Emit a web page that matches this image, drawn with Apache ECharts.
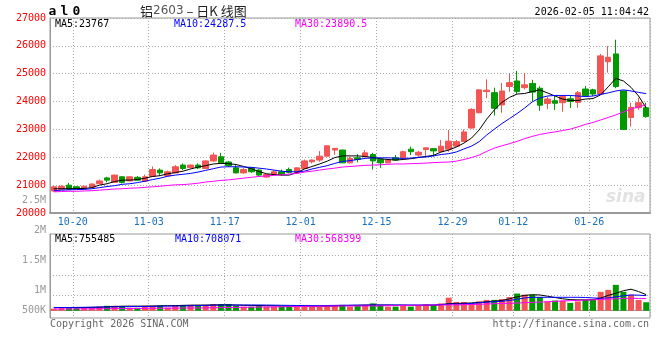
<!DOCTYPE html>
<html><head><meta charset="utf-8">
<script src="https://cdn.jsdelivr.net/npm/echarts@6.0.0/dist/echarts.min.js"></script>
<style>html,body{margin:0;padding:0;background:#fff}#c{width:660px;height:360px}</style>
</head><body><div id="c"></div>
<script>
const dates = ['10-16','10-17','10-20','10-21','10-22','10-23','10-24','10-27','10-28','10-29','10-30','10-31',
'11-03','11-04','11-05','11-06','11-07','11-10','11-11','11-12','11-13','11-14','11-17','11-18','11-19','11-20','11-21',
'11-24','11-25','11-26','11-27','11-28','12-01','12-02','12-03','12-04','12-05','12-08','12-09','12-10','12-11','12-12',
'12-15','12-16','12-17','12-18','12-19','12-22','12-23','12-24','12-25','12-26','12-29','12-30','12-31',
'01-05','01-06','01-07','01-08','01-09','01-12','01-13','01-14','01-15','01-16','01-19','01-20','01-21','01-22','01-23',
'01-26','01-27','01-28','01-29','01-30','02-02','02-03','02-04','02-05'];
const tickLabels = ['10-20','11-03','11-17','12-01','12-15','12-29','01-12','01-26'];
const opens = [20790,20850,21000,20940,20870,20920,21050,21260,21100,21300,21150,21280,21140,21320,21540,21330,21440,21720,21630,21720,
21600,21870,22020,21830,21620,21440,21620,21540,21290,21390,21480,21560,21440,21600,21840,21900,22040,22260,22260,21800,
21980,22020,22100,21920,21800,21980,21980,22290,22080,22280,22310,22200,22290,22400,22570,23050,23600,24360,24320,23880,
24540,24740,24500,24650,24480,23930,24030,23960,24100,23970,24450,24420,24270,25430,25710,24380,23430,23780,23780];
const closes = [20940,20960,20850,20870,20960,21040,21150,21180,21360,21100,21300,21180,21300,21560,21440,21480,21660,21600,21720,21620,
21870,22080,21800,21700,21440,21560,21480,21360,21380,21480,21380,21460,21620,21870,21900,22040,22410,22320,21800,21960,
21920,22160,21870,21800,21900,21900,22200,22200,22180,22340,22230,22400,22580,22560,22910,23720,24420,24410,23760,24380,
24680,24360,24600,24340,23870,24090,23940,24180,24000,24320,24210,24270,25640,25590,24540,23000,23790,23960,23460];
const lows = [20770,20840,20830,20850,20850,20900,21040,21100,21090,21060,21140,21160,21110,21310,21340,21310,21430,21540,21600,21580,
21590,21840,21790,21650,21420,21420,21440,21310,21270,21370,21340,21430,21420,21570,21780,21840,22020,22090,21790,21780,
21820,22000,21560,21620,21780,21870,21970,22080,22020,22020,22020,22190,22200,22380,22560,23030,23580,24120,23500,23600,
24350,24280,24440,24000,23670,23730,23700,23640,23770,23780,24180,24200,24250,25040,24480,22990,23100,23700,23420];
const highs = [20960,20990,21080,20970,20990,21060,21200,21300,21370,21320,21310,21330,21380,21670,21600,21520,21720,21780,21740,21780,
21890,22170,22160,21870,21720,21610,21640,21570,21400,21530,21560,21630,21640,21920,21920,22220,22440,22330,22270,22020,
22110,22260,22160,21960,21930,22080,22240,22380,22230,22340,22310,22620,22980,22620,23000,23760,24440,24800,24500,24670,
25000,25100,25020,24780,24550,24180,24210,24240,24220,24380,24560,24460,25710,26000,26220,24400,23960,24140,23960];
const ma5 = [20870,20870,20870,20880,20880,20910,21000,21050,21130,21180,21180,21200,21250,21310,21340,21410,21450,21500,21580,21650,
21700,21760,21780,21770,21740,21670,21590,21490,21410,21380,21360,21360,21450,21580,21670,21760,21860,21990,22050,22050,
22050,22030,21990,21950,21920,21900,21920,21950,21990,22030,22070,22190,22260,22370,22510,22690,22980,23370,23700,23970,
24150,24270,24290,24360,24420,24310,24200,24090,24040,24040,24090,24110,24240,24530,24830,24740,24510,24200,23767];
const ma10 = [20800,20820,20830,20840,20850,20870,20910,20950,20980,21030,21050,21090,21140,21200,21250,21320,21360,21390,21420,21470,
21530,21590,21650,21660,21660,21650,21640,21610,21580,21540,21500,21480,21480,21500,21580,21640,21700,21780,21850,21880,
21920,21960,21980,21980,21980,21970,21960,21970,22000,22010,22050,22100,22130,22190,22300,22400,22560,22800,23010,23210,
23390,23570,23770,23990,24130,24200,24220,24220,24220,24200,24180,24200,24260,24310,24380,24420,24380,24330,24287.5];
const ma30 = [20760,20770,20780,20780,20790,20800,20820,20840,20860,20870,20890,20900,20920,20940,20960,20990,21010,21020,21040,21070,
21110,21140,21170,21190,21220,21250,21280,21310,21330,21350,21370,21400,21420,21470,21500,21540,21580,21610,21650,21670,
21690,21710,21720,21730,21750,21760,21760,21770,21780,21790,21810,21820,21830,21860,21920,21990,22080,22210,22330,22410,
22490,22570,22670,22750,22820,22870,22910,22960,23010,23090,23180,23250,23340,23430,23520,23630,23730,23810,23890.5];
const volumesK = [96,135,148,148,135,135,191,231,231,218,135,135,231,231,231,148,231,270,270,231,
270,313,313,313,231,191,191,261,191,191,191,191,191,270,191,191,233,233,274,192,
233,274,344,274,192,192,274,192,233,303,274,344,613,409,409,344,438,507,507,548,
642,806,753,753,642,438,479,479,368,438,507,507,887,981,1215,887,753,507,397];
const volMa5K = [150,150,150,150,150,155,165,180,200,210,215,215,215,220,230,235,240,250,260,265,
265,270,270,270,265,255,250,245,235,230,220,210,205,205,205,210,215,225,235,245,
255,260,265,265,265,260,255,250,250,255,260,280,330,345,350,365,390,420,450,480,
560,650,720,750,740,680,620,560,520,510,510,520,590,720,820,940,1010,900,755];
const volMa10K = [150,150,150,155,160,165,170,175,180,185,190,195,200,205,210,215,220,225,230,240,
250,260,265,268,268,268,268,268,265,260,255,250,245,240,240,240,245,250,255,260,
262,265,268,268,268,268,268,268,268,268,270,290,310,315,320,340,370,400,423,440,
480,540,600,630,630,630,630,630,630,630,620,600,583,600,650,700,738,730,708];
const volMa30K = [80,82,84,86,88,90,92,95,98,100,103,106,109,112,115,118,121,124,127,130,
135,140,145,150,155,160,165,170,175,180,185,190,195,200,205,210,215,220,221,221,
221,221,225,230,235,240,245,250,255,260,265,268,270,275,280,290,300,315,330,340,
348,360,375,390,405,420,440,456,470,485,500,515,530,545,560,575,583,575,568];
const priceMaLabels = ['MA5:23767','MA10:24287.5','MA30:23890.5'];
const volMaLabels = ['MA5:755485','MA10:708071','MA30:568399'];
const volAxisLabels = ['2.5M','2M','1.5M','1M','500K'];
const titleCode = ['a','l','0'];
const titleText = '{a|铝}{b|2603}{a| – 日K 线图}';
const timeText = '2026-02-05 11:04:42';

const MONO = 'DejaVu Sans Mono';
const RED = '#f45454', GREEN = '#009a00';
const chart = echarts.init(document.getElementById('c'), null, {renderer: 'canvas'});
const candles = opens.map((o, i) => [o, closes[i], lows[i], highs[i]]);
const volData = volumesK.map((v, i) => ({value: v * 1000, itemStyle: {color: closes[i] >= opens[i] ? RED : GREEN}}));
const dot = {color: '#aaa', type: [1, 2], width: 1};
const splitFn = (i) => i > 0 && tickLabels.indexOf(dates[i - 1]) >= 0;
const maLine = (name, data, color, xi, yi) => ({type: 'line', name, data, xAxisIndex: xi, yAxisIndex: yi, showSymbol: false, symbol: 'none', silent: true, lineStyle: {color, width: 1}, z: 5});
const txt = (text, x, y, fill, align, font) => ({type: 'text', x: 0, y: 0, silent: true, style: {text, x, y, fill, textAlign: align || 'left', textVerticalAlign: 'middle', font: font || ('10px ' + MONO)}});

const option = {
  animation: false,
  backgroundColor: '#fff',
  grid: [
    {left: 50, top: 18, width: 600, height: 195, show: true, borderColor: '#999', borderWidth: 1},
    {left: 50, top: 234, width: 600, height: 84, show: true, borderColor: '#999', borderWidth: 1}
  ],
  xAxis: [
    {type: 'category', gridIndex: 0, data: dates, boundaryGap: true,
     axisLine: {show: true, lineStyle: {color: '#999', width: 2}}, axisTick: {show: false},
     axisLabel: {interval: (i, v) => tickLabels.indexOf(v) >= 0, color: '#1a70c0', fontFamily: MONO, fontSize: 10, margin: 4, padding: [0, 0, 0, 7.6]},
     splitLine: {show: true, interval: splitFn, lineStyle: dot}},
    {type: 'category', gridIndex: 1, data: dates, boundaryGap: true,
     axisLine: {show: true, lineStyle: {color: '#999', width: 1}}, axisTick: {show: false}, axisLabel: {show: false},
     splitLine: {show: true, interval: splitFn, lineStyle: dot}}
  ],
  yAxis: [
    {type: 'value', gridIndex: 0, min: 20000, max: 27000, interval: 1000,
     axisLine: {show: true, lineStyle: {color: '#999', width: 1}}, axisTick: {show: false},
     axisLabel: {color: '#f00', fontFamily: MONO, fontSize: 10, margin: 4, formatter: v => String(v)},
     splitLine: {show: true, lineStyle: dot}},
    {type: 'value', gridIndex: 1, min: -343000, max: 3605000,
     axisLine: {show: true, lineStyle: {color: '#999', width: 1}}, axisTick: {show: false}, axisLabel: {show: false},
     splitLine: {show: false}}
  ],
  series: [
    {type: 'candlestick', xAxisIndex: 0, yAxisIndex: 0, data: candles, barWidth: 6, silent: true,
     itemStyle: {color: RED, color0: GREEN, borderColor: RED, borderColor0: GREEN, borderWidth: 1}},
    maLine('MA5', ma5, '#000', 0, 0),
    maLine('MA10', ma10, '#0000ff', 0, 0),
    maLine('MA30', ma30, '#ff00ff', 0, 0),
    {type: 'bar', xAxisIndex: 1, yAxisIndex: 1, data: volData, barWidth: 6, silent: true},
    maLine('VMA5', volMa5K.map(v => v * 1000), '#000', 1, 1),
    maLine('VMA10', volMa10K.map(v => v * 1000), '#0000ff', 1, 1),
    maLine('VMA30', volMa30K.map(v => v * 1000), '#ff00ff', 1, 1)
  ],
  graphic: [
    txt(titleCode[0], 48.5, 12, '#000', 'left', 'bold 13px ' + MONO),
    txt(titleCode[1], 60.5, 12, '#000', 'left', 'bold 13px ' + MONO),
    txt(titleCode[2], 72.5, 12, '#000', 'left', 'bold 13px ' + MONO),
    {type: 'text', x: 0, y: 0, silent: true, style: {text: titleText, x: 140, y: 11, textAlign: 'left', textVerticalAlign: 'middle',
      rich: {a: {fontSize: 13, fontFamily: 'Noto Sans CJK SC', fill: '#222', color: '#222'}, b: {fontSize: 12, fontFamily: 'DejaVu Sans', fill: '#555', color: '#555'}}}},
    txt(timeText, 649, 12, '#000', 'right'),
    txt(priceMaLabels[0], 55, 24, '#000'),
    txt(priceMaLabels[1], 174, 24, '#0000ff'),
    txt(priceMaLabels[2], 295, 24, '#ff00ff'),
    txt(volMaLabels[0], 55, 239, '#000'),
    txt(volMaLabels[1], 175, 239, '#0000ff'),
    txt(volMaLabels[2], 295, 239, '#ff00ff'),
    txt(volAxisLabels[0], 46, 200, '#999', 'right'),
    txt(volAxisLabels[1], 46, 230.5, '#999', 'right'),
    txt(volAxisLabels[2], 46, 260, '#999', 'right'),
    txt(volAxisLabels[3], 46, 290.5, '#999', 'right'),
    txt(volAxisLabels[4], 46, 310.5, '#999', 'right'),
    txt('Copyright 2026 SINA.COM', 50, 324, '#666'),
    txt('http://finance.sina.com.cn', 649, 324, '#666', 'right'),
    txt('sina', 606, 198, '#e2e2e2', 'left', 'italic bold 17px "DejaVu Sans"'),
    {type: 'line', silent: true, shape: {x1: 50, y1: 255.5, x2: 650, y2: 255.5}, style: {stroke: '#aaa', lineDash: [1, 2], lineWidth: 1}},
    {type: 'line', silent: true, shape: {x1: 50, y1: 275.5, x2: 650, y2: 275.5}, style: {stroke: '#aaa', lineDash: [1, 2], lineWidth: 1}},
    {type: 'line', silent: true, shape: {x1: 50, y1: 295.5, x2: 650, y2: 295.5}, style: {stroke: '#aaa', lineDash: [1, 2], lineWidth: 1}}
  ]
};
chart.setOption(option);
</script></body></html>
